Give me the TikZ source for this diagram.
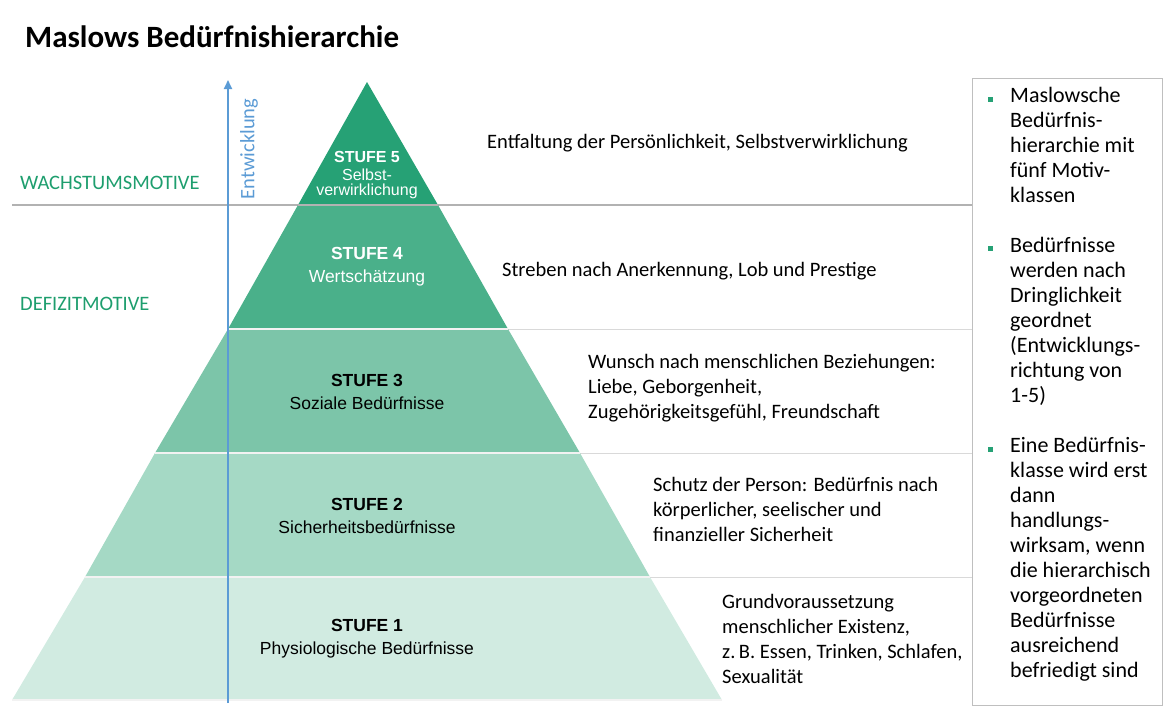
\documentclass[tikz,border=0pt]{standalone}
\usepackage{fontspec}
\setmainfont{Carlito}
\newfontfamily\arialf{Liberation Sans}
\usetikzlibrary{arrows.meta}
\definecolor{gA}{HTML}{26A175}
\definecolor{gB}{HTML}{4AB08A}
\definecolor{gC}{HTML}{7CC5A9}
\definecolor{gD}{HTML}{A5D9C5}
\definecolor{gE}{HTML}{D1EBE1}
\definecolor{tgreen}{HTML}{1E9E6E}
\definecolor{ablue}{HTML}{5B9BD5}
\tikzset{
 layer/.style={draw=white!90!gray, line width=1.2pt},
 stufe/.style={font=\arialf\fontsize{17.5}{21}\selectfont, align=center},
 desc/.style={font=\fontsize{20.5}{25}\selectfont, align=left, anchor=north west, inner sep=0},
 boxt/.style={font=\fontsize{22}{25}\selectfont, align=left, anchor=north west, inner sep=0},
 motive/.style={font=\fontsize{20.5}{22}\selectfont, text=tgreen, anchor=west, inner sep=0},
 sep/.style={draw=gray!30, line width=1pt},
}
\begin{document}
\begin{tikzpicture}[x=1pt,y=-1pt]
\useasboundingbox (0,0) rectangle (1173,716);
\node[anchor=west,inner sep=0,font=\bfseries\fontsize{31}{34}\selectfont] (title) at (25,37) {Maslows Bedürfnishierarchie};
% horizontal separators
\draw[sep] (508,329) -- (972,329);
\draw[sep] (580,453) -- (972,453);
\draw[sep] (650,577) -- (972,577);
\draw[draw=gray!60, line width=2pt] (12,205) -- (972,205);
% layers
\fill[gE] (12,700) -- (722,700) -- (650,577) -- (85,577) -- cycle;
\fill[gD] (85,577) -- (650,577) -- (580,453) -- (155,453) -- cycle;
\fill[gC] (155,453) -- (580,453) -- (508,329) -- (228,329) -- cycle;
\fill[gB] (228,329) -- (508,329) -- (438,205) -- (298,205) -- cycle;
\fill[gA] (298,205) -- (438,205) -- (367,82) -- cycle;
\draw[white!90!gray,line width=1.2pt] (12,700)--(722,700) (85,577)--(650,577) (155,453)--(580,453) (228,329)--(508,329);
\draw[gray!60, line width=2pt] (298,205)--(438,205);
% arrow
\coordinate (ab) at (228,703);
\coordinate (at) at (228,80);
\draw[ablue, line width=1.8pt, -{Triangle[length=9pt,width=8pt]}] (ab) -- (at);
\node[rotate=90, text=ablue, font=\fontsize{20.5}{22}\selectfont, anchor=center] (ent) at (249,149) {Entwicklung};
% motive labels
\node[motive] (wm) at (20,183) {WACHSTUMSMOTIVE};
\node[motive] (dm) at (20,304) {DEFIZITMOTIVE};
% stufen
\node[stufe, text=white, font=\arialf\fontsize{16}{19}\selectfont] (s5) at (367,175) {\textbf{STUFE 5}\\[-1pt]Selbst-\\[-4pt]verwirklichung};
\node[stufe, text=white] (s4) at (367,267) {\textbf{STUFE 4}\\[2pt]Wertschätzung};
\node[stufe] (s3) at (367,392) {\textbf{STUFE 3}\\[2pt]Soziale Bedürfnisse};
\node[stufe] (s2) at (367,516) {\textbf{STUFE 2}\\[2pt]Sicherheitsbedürfnisse};
\node[stufe] (s1) at (367,639) {\textbf{STUFE 1}\\[2pt]Physiologische Bedürfnisse};
% descriptions
\node[desc] (d5) at (487,134) {Entfaltung der Persönlichkeit, Selbstverwirklichung};
\node[desc] (d4) at (502,262) {Streben nach Anerkennung, Lob und Prestige};
\node[desc] (d3) at (588,354) {Wunsch nach menschlichen Beziehungen:\\Liebe, Geborgenheit,\\Zugehörigkeitsgefühl, Freundschaft};
\node[desc] (d2) at (653,477) {Schutz der Person: Bedürfnis nach\\körperlicher, seelischer und\\finanzieller Sicherheit};
\node[desc] (d1) at (722,594) {Grundvoraussetzung\\menschlicher Existenz,\\z.\,B. Essen, Trinken, Schlafen,\\Sexualität};
% right box
\draw[gray!50, line width=1pt] (972,78) rectangle (1162,705);
\foreach \y in {99,248,449} \fill[gA] (988,\y-2.5) rectangle (993,\y+2.5);
\node[boxt] (b1) at (1010,87) {Maslowsche\\Bedürfnis-\\hierarchie mit\\fünf Motiv-\\klassen};
\node[boxt] (b2) at (1010,237) {Bedürfnisse\\werden nach\\Dringlichkeit\\geordnet\\(Entwicklungs-\\richtung von\\1-5)};
\node[boxt] (b3) at (1010,437) {Eine Bedürfnis-\\klasse wird erst\\dann\\handlungs-\\wirksam, wenn\\die hierarchisch\\vorgeordneten\\Bedürfnisse\\ausreichend\\befriedigt sind};
\end{tikzpicture}
\end{document}
